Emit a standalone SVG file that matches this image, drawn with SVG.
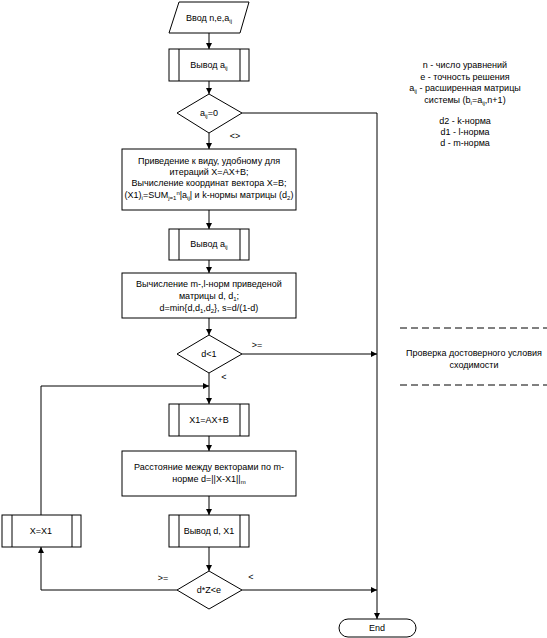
<svg xmlns="http://www.w3.org/2000/svg" width="547" height="638" viewBox="0 0 547 638">
<style>
text{font-family:"Liberation Sans",Arial,sans-serif;font-size:9px;fill:#000;text-anchor:middle}
.s{font-size:6px}
.n rect,.n path,.n polygon{fill:#fff;stroke:#000;stroke-width:1}
.n line{stroke:#000;stroke-width:1}
#connectors path{fill:none;stroke:#000;stroke-width:1}
.dash{stroke:#000;stroke-width:1;stroke-dasharray:7,4}
</style>
<defs>
<marker id="a" markerUnits="userSpaceOnUse" markerWidth="7" markerHeight="7" refX="6" refY="3.5" orient="auto">
<path d="M0,0.5 L6,3.5 L0,6.5 Z" fill="#000"/>
</marker>
</defs>
<rect width="547" height="638" fill="#fff"/>
<g id="connectors">
<path d="M209,33 V49" marker-end="url(#a)"/>
<path d="M209,81 V94" marker-end="url(#a)"/>
<path d="M209,133 V149" marker-end="url(#a)"/>
<path d="M209,210 V229" marker-end="url(#a)"/>
<path d="M209,260 V273" marker-end="url(#a)"/>
<path d="M209,318 V335" marker-end="url(#a)"/>
<path d="M209,373 V404" marker-end="url(#a)"/>
<path d="M41,515 V386 H209" marker-end="url(#a)"/>
<path d="M209,436 V451" marker-end="url(#a)"/>
<path d="M209,496 V515" marker-end="url(#a)"/>
<path d="M209,547 V571" marker-end="url(#a)"/>
<path d="M177,590 H41 V547" marker-end="url(#a)"/>
<path d="M242,354 H377" marker-end="url(#a)"/>
<path d="M242,590 H377" marker-end="url(#a)"/>
<path d="M242,113 H377 V619" marker-end="url(#a)"/>
<text x="235" y="139">&lt;&gt;</text>
<text x="257" y="348">&gt;=</text>
<text x="224" y="380">&lt;</text>
<text x="163" y="581">&gt;=</text>
<text x="251" y="580">&lt;</text>
</g>
<g id="input" class="n">
<polygon points="179,2 249,2 240,33 169,33"/>
<text x="209" y="21">Ввод n,e,a<tspan class="s" dy="2">ij</tspan></text>
</g>
<g id="out1" class="n">
<rect x="169" y="49" width="80" height="32"/>
<line x1="179" y1="49" x2="179" y2="81"/><line x1="240" y1="49" x2="240" y2="81"/>
<text x="209" y="68">Вывод a<tspan class="s" dy="2">ij</tspan></text>
</g>
<g id="dec1" class="n">
<polygon points="209,94 242,113 209,133 177,113"/>
<text x="209" y="116">a<tspan class="s" dy="2">ij</tspan><tspan dy="-2">=0</tspan></text>
</g>
<g id="prep" class="n">
<rect x="122" y="149" width="174" height="61"/>
<text x="209" y="164">Приведение к виду, удобному для</text>
<text x="209" y="175">итераций X=AX+B;</text>
<text x="209" y="186">Вычисление координат вектора X=B;</text>
<text x="209" y="198">(X1)<tspan class="s" dy="2">i</tspan><tspan dy="-2">=SUM</tspan><tspan class="s" dy="2">j=1</tspan><tspan class="s" dy="-5">n</tspan><tspan dy="3">|a</tspan><tspan class="s" dy="2">ij</tspan><tspan dy="-2">| и k-нормы матрицы (d</tspan><tspan class="s" dy="2">2</tspan><tspan dy="-2">)</tspan></text>
</g>
<g id="out2" class="n">
<rect x="169" y="229" width="80" height="31"/>
<line x1="179" y1="229" x2="179" y2="260"/><line x1="240" y1="229" x2="240" y2="260"/>
<text x="209" y="247">Вывод a<tspan class="s" dy="2">ij</tspan></text>
</g>
<g id="norms" class="n">
<rect x="122" y="273" width="174" height="45"/>
<text x="209" y="287">Вычисление m-,l-норм приведеной</text>
<text x="209" y="299">матрицы d, d<tspan class="s" dy="2">1</tspan><tspan dy="-2">;</tspan></text>
<text x="209" y="311">d=min{d,d<tspan class="s" dy="2">1</tspan><tspan dy="-2">,d</tspan><tspan class="s" dy="2">2</tspan><tspan dy="-2">}, s=d/(1-d)</tspan></text>
</g>
<g id="dec2" class="n">
<polygon points="209,335 242,354 209,373 177,354"/>
<text x="209" y="357">d&lt;1</text>
</g>
<g id="iter" class="n">
<rect x="169" y="404" width="80" height="32"/>
<line x1="179" y1="404" x2="179" y2="436"/><line x1="240" y1="404" x2="240" y2="436"/>
<text x="209" y="423">X1=AX+B</text>
</g>
<g id="dist" class="n">
<rect x="122" y="451" width="174" height="45"/>
<text x="209" y="470">Расстояние между векторами по m-</text>
<text x="209" y="482">норме d=||X-X1||<tspan class="s" dy="2">m</tspan></text>
</g>
<g id="out3" class="n">
<rect x="169" y="515" width="80" height="32"/>
<line x1="179" y1="515" x2="179" y2="547"/><line x1="240" y1="515" x2="240" y2="547"/>
<text x="209" y="534">Вывод d, X1</text>
</g>
<g id="assign" class="n">
<rect x="2" y="515" width="79" height="32"/>
<line x1="12" y1="515" x2="12" y2="547"/><line x1="72" y1="515" x2="72" y2="547"/>
<text x="41" y="534">X=X1</text>
</g>
<g id="dec3" class="n">
<polygon points="209,571 242,590 209,609 177,590"/>
<text x="209" y="593">d*Z&lt;e</text>
</g>
<g id="end" class="n">
<rect x="339" y="619" width="77" height="18" rx="9" ry="9"/>
<text x="377" y="631">End</text>
</g>
<g id="legend">
<text x="465" y="68">n - число уравнений</text>
<text x="465" y="80">e - точность решения</text>
<text x="465" y="91">a<tspan class="s" dy="2">ij</tspan><tspan dy="-2"> - расширенная матрицы</tspan></text>
<text x="465" y="103">системы (b<tspan class="s" dy="2">i</tspan><tspan dy="-2">=a</tspan><tspan class="s" dy="2">ij</tspan><tspan dy="-2">,n+1)</tspan></text>
<text x="465" y="124">d2 - k-норма</text>
<text x="465" y="135">d1 - l-норма</text>
<text x="465" y="146">d - m-норма</text>
</g>
<g id="note">
<line class="dash" x1="400" y1="328" x2="547" y2="328"/>
<line class="dash" x1="400" y1="385" x2="547" y2="385"/>
<text x="474" y="356">Проверка достоверного условия</text>
<text x="474" y="368">сходимости</text>
</g>
</svg>
